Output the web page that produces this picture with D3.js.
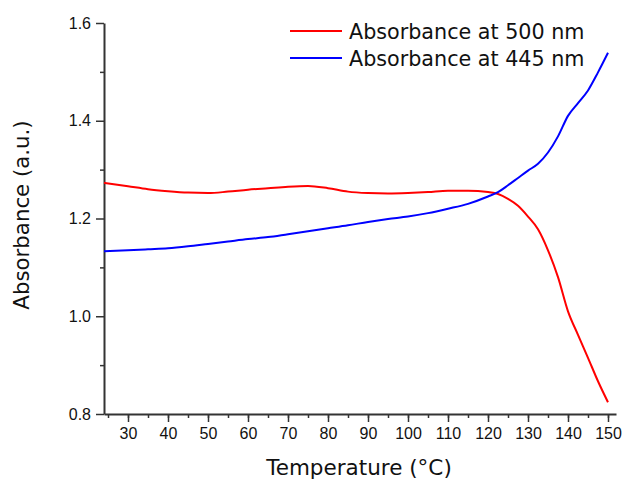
<!DOCTYPE html>
<html>
<head>
<meta charset="utf-8">
<script src="https://cdn.jsdelivr.net/npm/d3@7"></script>
<style>
  body { margin: 0; background: #fff; }
  svg { display: block; font-family: "DejaVu Sans", Verdana, sans-serif; }
  .axis path, .axis line { stroke: #333; }
  .axis text { fill: #111; font-size: 16px; }
</style>
</head>
<body>
<svg id="chart"></svg>
<script>
// temperatures (°C) and the two absorbance series
var temperature = [24, 30, 35, 40, 45, 50, 55, 60, 65, 70, 75, 80, 85, 90, 95, 100,
  105, 110, 115, 120, 122.5, 125, 127.5, 130, 132.5, 135, 137.5, 140, 142.5, 145, 147.5, 150];
var abs500 = [1.273, 1.266, 1.260, 1.256, 1.253, 1.252, 1.255, 1.259, 1.262, 1.265, 1.2665, 1.262,
  1.255, 1.252, 1.251, 1.252, 1.254, 1.257, 1.257, 1.254, 1.250, 1.240, 1.226, 1.204, 1.178,
  1.135, 1.080, 1.010, 0.962, 0.915, 0.867, 0.824];
var abs445 = [1.133, 1.135, 1.137, 1.139, 1.143, 1.148, 1.153, 1.158, 1.162, 1.168, 1.174, 1.180,
  1.186, 1.193, 1.199, 1.204, 1.211, 1.220, 1.230, 1.245, 1.254, 1.268, 1.283, 1.298, 1.312,
  1.335, 1.368, 1.410, 1.436, 1.462, 1.499, 1.539];
var seriesNames = ["Absorbance at 500 nm", "Absorbance at 445 nm"];
var seriesColors = ["#ff0000", "#0000ff"];
var xTicks = [30, 40, 50, 60, 70, 80, 90, 100, 110, 120, 130, 140, 150];
var yTicks = [0.8, 1.0, 1.2, 1.4, 1.6];

var margin = {top: 23, right: 11, bottom: 67, left: 104},
    width = 627 - margin.left - margin.right,
    height = 481 - margin.top - margin.bottom;

var svg = d3.select("#chart")
  .attr("width", 627)
  .attr("height", 481);

var g = svg.append("g")
  .attr("transform", "translate(" + margin.left + "," + margin.top + ")");

var x = d3.scaleLinear().domain([24, 152]).range([0, width]);
var y = d3.scaleLinear().domain([0.8, 1.6]).range([height, 0]);

// minor ticks first
g.append("g")
  .attr("class", "axis")
  .attr("transform", "translate(0," + height + ")")
  .call(d3.axisBottom(x).tickValues(d3.range(25, 151, 5)).tickSize(4).tickFormat(""))
  .call(a => a.select(".domain").remove())
  .selectAll("line").attr("stroke-width", 1.5);

g.append("g")
  .attr("class", "axis")
  .call(d3.axisLeft(y).tickValues(d3.range(0.9, 1.6, 0.2)).tickSize(4).tickFormat(""))
  .call(a => a.select(".domain").remove())
  .selectAll("line").attr("stroke-width", 1.5);

var xAxis = g.append("g")
  .attr("class", "axis")
  .attr("transform", "translate(0," + height + ")")
  .call(d3.axisBottom(x).tickValues(xTicks).tickSize(8).tickSizeOuter(0).tickPadding(6));
xAxis.select(".domain").attr("stroke-width", 2);
xAxis.selectAll("line").attr("stroke-width", 1.5);

var yAxis = g.append("g")
  .attr("class", "axis")
  .call(d3.axisLeft(y).tickValues(yTicks).tickFormat(d3.format(".1f")).tickSize(8).tickSizeOuter(0).tickPadding(5));
yAxis.select(".domain").attr("stroke-width", 2);
yAxis.selectAll("line").attr("stroke-width", 1.5);

var line = d3.line()
  .x(d => x(d[0]))
  .y(d => y(d[1]))
  .curve(d3.curveMonotoneX);

[abs500, abs445].forEach(function(vals, i) {
  g.append("path")
    .datum(temperature.map((t, j) => [t, vals[j]]))
    .attr("fill", "none")
    .attr("stroke", seriesColors[i])
    .attr("stroke-width", 2)
    .attr("d", line);
});

// legend
var legend = svg.append("g").attr("transform", "translate(290,31)");
seriesNames.forEach(function(name, i) {
  var row = legend.append("g").attr("transform", "translate(0," + (i * 27) + ")");
  row.append("line")
    .attr("x1", 0).attr("x2", 52)
    .attr("stroke", seriesColors[i])
    .attr("stroke-width", 2);
  row.append("text")
    .attr("x", 59).attr("y", 7.5)
    .style("font-size", "20.7px")
    .attr("fill", "#111")
    .text(name);
});

// axis titles
svg.append("text")
  .attr("x", 359)
  .attr("y", 475)
  .attr("text-anchor", "middle")
  .style("font-size", "21.5px")
  .attr("fill", "#111")
  .text("Temperature (°C)");

svg.append("text")
  .attr("transform", "translate(29,215) rotate(-90)")
  .attr("text-anchor", "middle")
  .style("font-size", "21.3px")
  .attr("fill", "#111")
  .text("Absorbance (a.u.)");
</script>
</body>
</html>
